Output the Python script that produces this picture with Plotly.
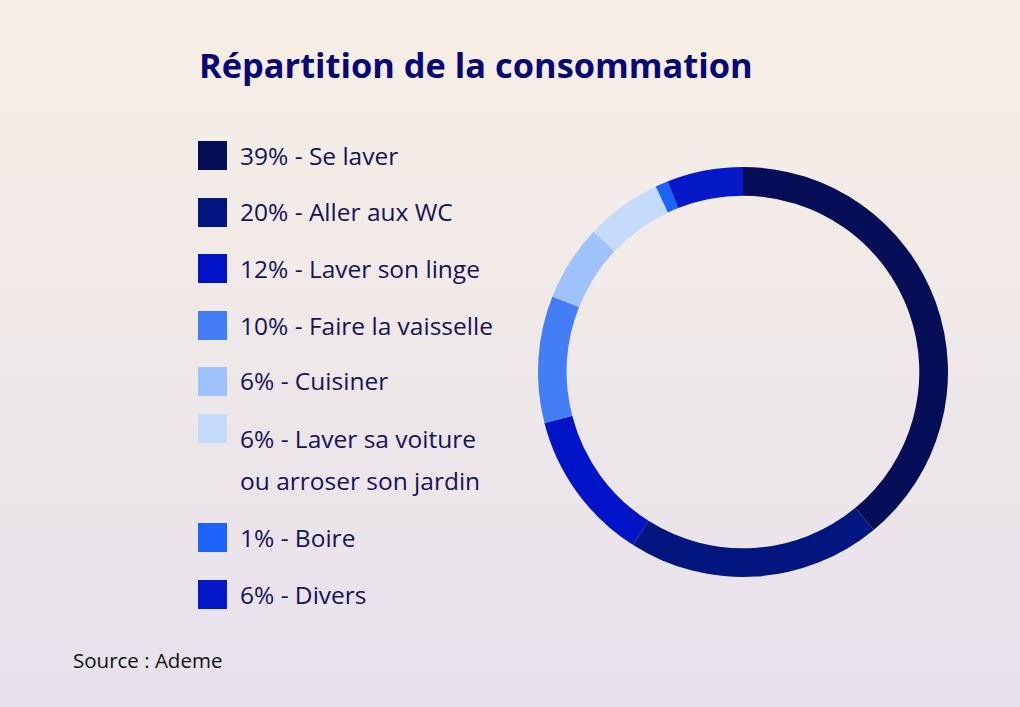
import plotly.graph_objects as go

# ---- data ----
categories = ["Se laver", "Aller aux WC", "Laver son linge", "Faire la vaisselle",
              "Cuisiner", "Laver sa voiture<br>ou arroser son jardin", "Boire", "Divers"]
shares = [39, 20, 12, 10, 6, 6, 1, 6]
colors = ["#070E58", "#031680", "#0214C8", "#437EF7", "#A0C2FA", "#C5D9FB", "#1B63F9", "#0519C8"]
title_text = "Répartition de la consommation"
source_text = "Source : Ademe"

W, H = 1020, 707
FONT = "Open Sans"

fig = go.Figure()
fig.add_trace(go.Pie(
    labels=categories, values=shares, hole=0.86, sort=False, direction="clockwise",
    rotation=0, marker=dict(colors=colors, line=dict(width=0)),
    textinfo="none", hoverinfo="label+percent", showlegend=False,
    domain=dict(x=[538 / W, 948 / W], y=[1 - 577 / H, 1 - 167 / H]),
))

shapes = []
# background gradient (decoration)
n = 60
top = (247, 239, 229)
bot = (231, 225, 236)
for i in range(n):
    t = i / (n - 1)
    c = tuple(round(top[k] + (bot[k] - top[k]) * t) for k in range(3))
    shapes.append(dict(type="rect", xref="paper", yref="paper", x0=0, x1=1,
                       y0=1 - (i + 1) / n, y1=1 - i / n + 0.001,
                       fillcolor="rgb(%d,%d,%d)" % c, line=dict(width=0), layer="below"))

annotations = []
# custom legend
row_y = [155, 212, 268, 325, 381, 438, 537, 594]
for lab, val, col, yy in zip(categories, shares, colors, row_y):
    lines = lab.split("<br>")
    sy0 = yy - 14 if len(lines) == 1 else yy - 24
    shapes.append(dict(type="rect", xref="paper", yref="paper",
                       x0=198 / W, x1=227 / W, y0=1 - (sy0 + 29) / H, y1=1 - sy0 / H,
                       fillcolor=col, line=dict(width=0)))
    for j, ln in enumerate(lines):
        txt = ("%d%% - %s" % (val, ln)) if j == 0 else ln
        annotations.append(dict(text=txt, xref="paper", yref="paper", x=238 / W,
                                y=1 - (yy + 43 * j) / H, xanchor="left", yanchor="middle",
                                align="left", showarrow=False,
                                font=dict(family=FONT, size=24.5, color="#14145A")))

annotations.append(dict(text="<b>%s</b>" % title_text, xref="paper", yref="paper",
                        x=197 / W, y=1 - 64 / H, xanchor="left", yanchor="middle",
                        showarrow=False, font=dict(family=FONT, size=34.4, color="#070775")))
annotations.append(dict(text=source_text, xref="paper", yref="paper",
                        x=71 / W, y=1 - 660 / H, xanchor="left", yanchor="middle",
                        showarrow=False, font=dict(family=FONT, size=20.5, color="#111111")))

fig.update_layout(width=W, height=H, margin=dict(l=0, r=0, t=0, b=0),
                  paper_bgcolor="#F0EAEA", plot_bgcolor="rgba(0,0,0,0)",
                  shapes=shapes, annotations=annotations)
fig.write_html("out.html", config={"displayModeBar": False},
               post_script="document.body.style.margin='0';document.body.style.overflow='hidden';")
